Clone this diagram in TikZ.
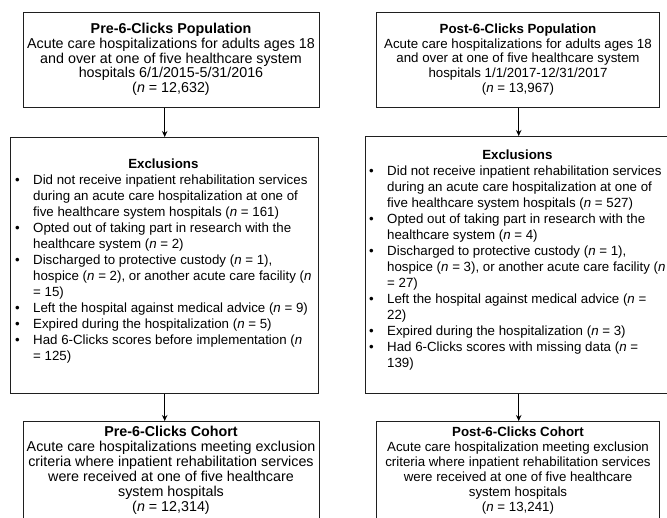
\documentclass[tikz,border=0pt]{standalone}
\usepackage{fontspec}
\setmainfont{Liberation Sans}
\usetikzlibrary{arrows.meta}
\begin{document}
\begin{tikzpicture}[x=1pt,y=-1pt,
  box/.style={draw=black!88,line width=1.4pt,inner sep=0pt,anchor=north west},
  txt/.style={align=center,inner sep=0pt,font=\fontsize{13.3}{14.75}\selectfont},
  txtbig/.style={align=center,inner sep=0pt,font=\fontsize{14.3}{14.75}\selectfont},
  lst/.style={inner sep=0pt,anchor=west,font=\fontsize{13.3}{16}\selectfont},
  arr/.style={draw=black,line width=1pt,-{Stealth[length=6pt,width=5.5pt]}}]
\useasboundingbox (0,0) rectangle (667,517);
% boxes
\node[box,minimum width=296pt,minimum height=95pt] (popA) at (23,12) {};
\node[box,minimum width=283pt,minimum height=95pt] (popB) at (376,12) {};
\node[box,minimum width=308pt,minimum height=256pt] (excA) at (10,137) {};
\node[box,minimum width=306pt,minimum height=257pt] (excB) at (365,136) {};
\node[box,minimum width=296pt,minimum height=110pt] (cohA) at (23,421) {};
\node[box,minimum width=283pt,minimum height=110pt] (cohB) at (376,421) {};
% texts
\node[txtbig] (tpopA) at (171,59.5) {\textbf{Pre-6-Clicks Population}\\
Acute care hospitalizations for adults ages 18\\
and over at one of five healthcare system\\
hospitals 6/1/2015-5/31/2016\\
(\textit{n} = 12,632)};
\node[txt] (tpopB) at (518,59.5) {\textbf{Post-6-Clicks Population}\\
Acute care hospitalizations for adults ages 18\\
and over at one of five healthcare system\\
hospitals 1/1/2017-12/31/2017\\
(\textit{n} = 13,967)};
\node[lst] (texcA) at (15,261.5) {\begin{tabular}{@{}p{18pt}@{}l@{}}
\multicolumn{2}{c}{\textbf{Exclusions}}\\
\textbullet & Did not receive inpatient rehabilitation services\\
& during an acute care hospitalization at one of\\
& five healthcare system hospitals (\textit{n} = 161)\\
\textbullet & Opted out of taking part in research with the\\
& healthcare system (\textit{n} = 2)\\
\textbullet & Discharged to protective custody (\textit{n} = 1),\\
& hospice (\textit{n} = 2), or another acute care facility (\textit{n}\\
& = 15)\\
\textbullet & Left the hospital against medical advice (\textit{n} = 9)\\
\textbullet & Expired during the hospitalization (\textit{n} = 5)\\
\textbullet & Had 6-Clicks scores before implementation (\textit{n}\\
& = 125)
\end{tabular}};
\node[lst] (texcB) at (369,260.5) {\begin{tabular}{@{}p{18pt}@{}l@{}}
\multicolumn{2}{c}{\textbf{Exclusions}}\\
\textbullet & Did not receive inpatient rehabilitation services\\
& during an acute care hospitalization at one of\\
& five healthcare system hospitals (\textit{n} = 527)\\
\textbullet & Opted out of taking part in research with the\\
& healthcare system (\textit{n} = 4)\\
\textbullet & Discharged to protective custody (\textit{n} = 1),\\
& hospice (\textit{n} = 3), or another acute care facility (\textit{n}\\
& = 27)\\
\textbullet & Left the hospital against medical advice (\textit{n} =\\
& 22)\\
\textbullet & Expired during the hospitalization (\textit{n} = 3)\\
\textbullet & Had 6-Clicks scores with missing data (\textit{n} =\\
& 139)
\end{tabular}};
\node[txtbig] (tcohA) at (171,470.5) {\textbf{Pre-6-Clicks Cohort}\\[0.25pt]
Acute care hospitalizations meeting exclusion\\[0.25pt]
criteria where inpatient rehabilitation services\\[0.25pt]
were received at one of five healthcare\\[0.25pt]
system hospitals\\[0.25pt]
(\textit{n} = 12,314)};
\node[txt] (tcohB) at (518,470.5) {\textbf{Post-6-Clicks Cohort}\\[0.25pt]
Acute care hospitalization meeting exclusion\\[0.25pt]
criteria where inpatient rehabilitation services\\[0.25pt]
were received at one of five healthcare\\[0.25pt]
system hospitals\\[0.25pt]
(\textit{n} = 13,241)};
% arrows
\draw[arr] (excA.north |- popA.south) -- (excA.north);
\draw[arr] (excB.north |- popB.south) -- (excB.north);
\draw[arr] (excA.south) -- (excA.south |- cohA.north);
\draw[arr] (excB.south) -- (excB.south |- cohB.north);
\end{tikzpicture}
\end{document}
